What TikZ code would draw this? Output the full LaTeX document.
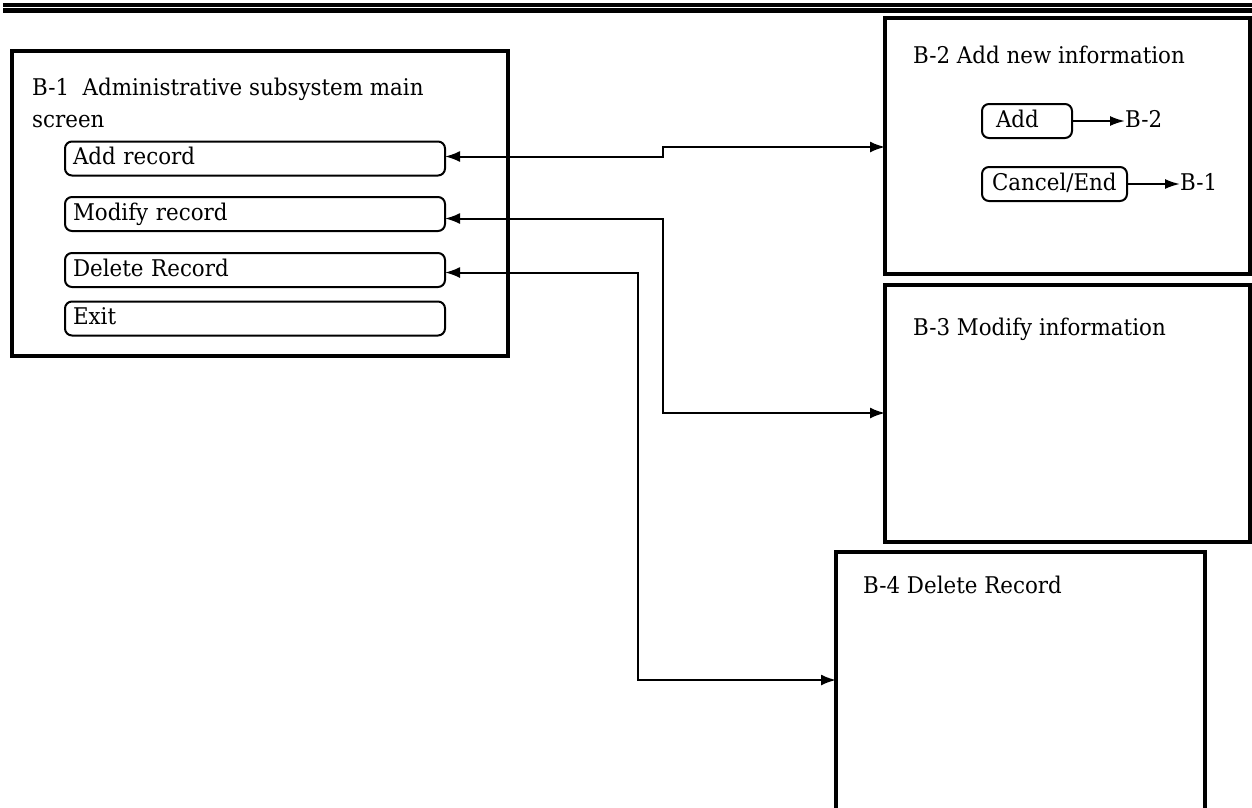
\documentclass[tikz,border=0pt]{standalone}
\usepackage{fontspec}
\setmainfont{DejaVu Serif}[FakeStretch=0.93]
\usetikzlibrary{arrows.meta}
\tikzset{
  screenbox/.style={draw, rectangle, line width=4pt, outer sep=0pt, inner sep=0pt, anchor=north west},
  titletext/.style={anchor=base west, inner sep=0pt, align=left, font=\fontsize{23}{32}\selectfont},
  btn/.style={draw, line width=2pt, rounded corners=7pt, outer sep=0pt, inner ysep=0pt,
    minimum height=34pt, text height=16pt, text depth=4pt, align=left, anchor=west,
    font=\fontsize{23}{26}\selectfont},
  linktext/.style={anchor=west, inner sep=0pt, text height=16pt, text depth=4pt, font=\fontsize{23}{26}\selectfont},
  conn/.style={line width=2pt, {Latex[length=15pt,width=11pt]}-{Latex[length=15pt,width=11pt]}},
  jump/.style={line width=2pt, -{Latex[length=15pt,width=10pt]}},
}
\begin{document}
\begin{tikzpicture}[x=1pt,y=-1pt]
\useasboundingbox (0,0) rectangle (1252,807);
% double rule along the top
\draw[line width=3.6pt] (3,5) -- (1252,5);
\draw[line width=4.2pt] (3,10.5) -- (1252,10.5);

% screens
\node[screenbox, minimum width=496.5pt, minimum height=305pt] (b1) at (11.5,50.5) {};
\node[screenbox, minimum width=365pt, minimum height=256.5pt] (b2) at (885,17.5) {};
\node[screenbox, minimum width=365pt, minimum height=256.5pt] (b3) at (885,285) {};
\node[screenbox, minimum width=369pt, minimum height=270pt] (b4) at (836,552) {};

% titles (base anchor sits on the last line)
\node[titletext] (t1) at (32,127) {B-1\ \ Administrative subsystem main\\screen};
\node[titletext] (t2) at (913,63) {B-2 Add new information};
\node[titletext] (t3) at (913,335) {B-3 Modify information};
\node[titletext] (t4) at (863,593) {B-4 Delete Record};

% main screen buttons
\node[btn, inner xsep=8pt, text width=364pt] (addrec) at (65,158.5) {Add record};
\node[btn, inner xsep=8pt, text width=364pt] (modrec) at (65,214) {Modify record};
\node[btn, inner xsep=8pt, text width=364pt] (delrec) at (65,270) {Delete Record};
\node[btn, inner xsep=8pt, text width=364pt] (exitb) at (65,318.5) {Exit};

% add-screen buttons and their targets
\node[btn, inner xsep=14pt, text width=62pt] (addb) at (982,121) {Add};
\node[btn, inner xsep=10pt, text width=125pt] (cancelb) at (982,184) {Cancel/End};
\node[linktext] (gob2) at (1125,121) {B-2};
\node[linktext] (gob1) at (1180,184) {B-1};
\draw[jump] (addb.east) -- (gob2.west);
\draw[jump] (cancelb.east) -- (gob1.west);

% links between the main screen and the other screens
\draw[conn] (addrec.east |- 0,156.5) -- (663,156.5) -- (663,147) -- (b2.west |- 0,147);
\draw[conn] (modrec.east |- 0,218.5) -- (663,218.5) -- (663,413) -- (b3.west |- 0,413);
\draw[conn] (delrec.east |- 0,272.5) -- (638,272.5) -- (638,680) -- (b4.west |- 0,680);
\end{tikzpicture}
\end{document}
